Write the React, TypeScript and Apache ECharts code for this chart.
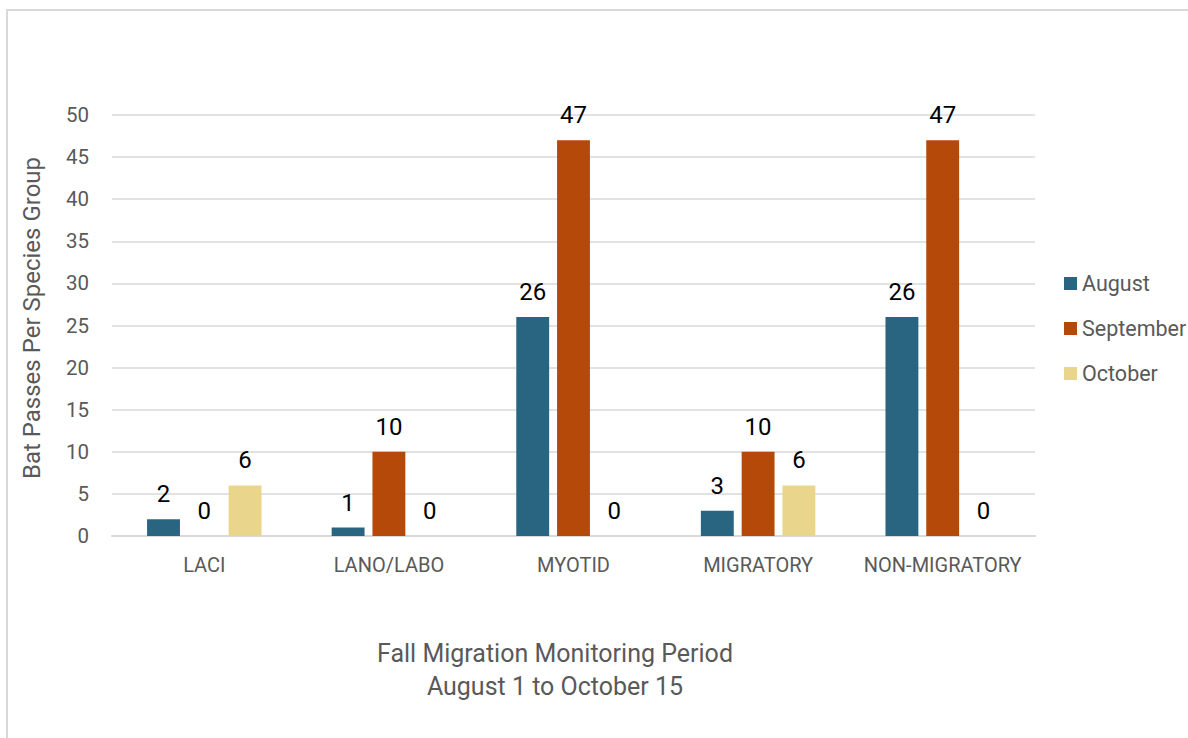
import React, { useEffect, useRef } from "react";
import * as echarts from "echarts";

const categories = ["LACI", "LANO/LABO", "MYOTID", "MIGRATORY", "NON-MIGRATORY"];
const august = [2, 1, 26, 3, 26];
const september = [0, 10, 47, 10, 47];
const october = [6, 0, 0, 6, 0];
const seriesNames = ["August", "September", "October"];
const colors = ["#296481", "#b5490a", "#e9d58b"];
const yTitle = "Bat Passes Per Species Group";
const xTitleLines = ["Fall Migration Monitoring Period", "August 1 to October 15"];

const FONT = "Roboto, 'Liberation Sans', sans-serif";

export default function App() {
  const ref = useRef<HTMLDivElement>(null);
  useEffect(() => {
    if (!ref.current) return;
    const chart = echarts.init(ref.current, undefined, { renderer: "svg" });
    const data = [august, september, october];
    chart.setOption({
      animation: false,
      backgroundColor: "#ffffff",
      textStyle: { fontFamily: FONT },
      grid: { left: 112, right: 153, top: 115, bottom: 202, containLabel: false },
      legend: {
        orient: "vertical",
        left: 1059,
        top: 267,
        itemWidth: 13,
        itemHeight: 13,
        itemGap: 22,
        icon: "rect",
        textStyle: { fontFamily: FONT, fontSize: 21.5, color: "#595959", lineHeight: 23 },
        data: seriesNames,
      },
      xAxis: {
        type: "category",
        data: categories,
        axisLine: { show: true, lineStyle: { color: "#d9d9d9", width: 2 } },
        axisTick: { show: false },
        axisLabel: { fontFamily: FONT, fontSize: 20, color: "#595959", margin: 19, interval: 0 },
      },
      yAxis: {
        type: "value",
        min: 0,
        max: 50,
        interval: 5,
        axisLine: { show: false },
        axisTick: { show: false },
        axisLabel: { fontFamily: FONT, fontSize: 20.5, color: "#595959", margin: 23 },
        splitLine: { lineStyle: { color: "#d9d9d9", width: 1.5 } },
      },
      series: seriesNames.map((name, i) => ({
        name,
        type: "bar",
        data: data[i],
        barGap: "24%",
        barCategoryGap: "38%",
        itemStyle: { color: colors[i] },
        label: {
          show: true,
          position: "top",
          distance: 13,
          fontFamily: FONT,
          fontSize: 24,
          color: "#000000",
        },
      })),
      graphic: [
        {
          type: "rect",
          shape: { x: 7, y: 10, width: 1300, height: 900 },
          style: { fill: "none", stroke: "#d9d9d9", lineWidth: 2 },
          silent: true,
        },
        {
          type: "text",
          x: 32,
          y: 318,
          rotation: Math.PI / 2,
          style: {
            text: yTitle,
            fontFamily: FONT,
            fontSize: 24,
            fill: "#595959",
            align: "center",
            verticalAlign: "middle",
          },
        },
        ...xTitleLines.map((t, i) => ({
          type: "text",
          x: 555,
          y: 653 + i * 33,
          style: {
            text: t,
            fontFamily: FONT,
            fontSize: 25,
            fill: "#595959",
            align: "center",
            verticalAlign: "middle",
          },
        })),
      ],
    });
    return () => chart.dispose();
  }, []);
  return (
    <div
      ref={ref}
      style={{ position: "absolute", left: 0, top: 0, width: 1188, height: 738 }}
    />
  );
}
